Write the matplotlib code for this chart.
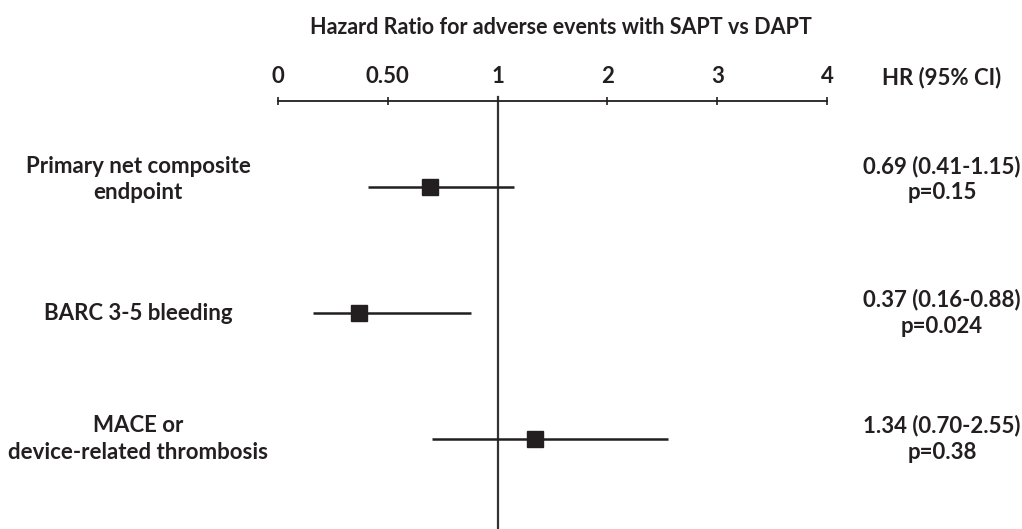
import numpy as np
import matplotlib
matplotlib.use("Agg")
import matplotlib.pyplot as plt
from matplotlib.transforms import blended_transform_factory

# ── Data ──────────────────────────────────────────────────────────────────────
endpoints = ["Primary net composite\nendpoint",
             "BARC 3-5 bleeding",
             "MACE or\ndevice-related thrombosis"]
hr      = [0.69, 0.37, 1.34]
ci_low  = [0.41, 0.16, 0.70]
ci_high = [1.15, 0.88, 2.55]
p_vals  = ["0.15", "0.024", "0.38"]

tick_vals   = [0, 0.5, 1, 2, 3, 4]
tick_labels = ["0", "0.50", "1", "2", "3", "4"]

# ── Style ─────────────────────────────────────────────────────────────────────
INK = "#231f20"
plt.rcParams.update({
    "font.family": ["Lato", "DejaVu Sans"],
    "font.weight": "bold",
    "font.size":   16,
})

W, H = 1022, 529
fig = plt.figure(figsize=(W / 100, H / 100), dpi=100)

# axes spans from the "0" tick to the "4" tick, top edge = HR axis line
ax = fig.add_axes([278 / W, 0, (827 - 278) / W, 1 - 101 / H])

# evenly spaced ticks 0, .5, 1, 2, 3, 4  -> piecewise linear scale
_pos = np.arange(len(tick_vals), dtype=float)
fwd = lambda v: np.interp(v, tick_vals, _pos)
inv = lambda u: np.interp(u, _pos, tick_vals)
ax.set_xscale("function", functions=(fwd, inv))
ax.set_xlim(0, 4)
ax.set_ylim(2.714, -0.683)

ax.set_xticks(tick_vals)
ax.set_xticklabels(tick_labels)
ax.xaxis.set_ticks_position("top")
ax.tick_params(axis="x", direction="inout", length=6, width=1.2,
               color=INK, pad=7, labelcolor=INK)
ax.set_yticks([])
for side in ["bottom", "left", "right"]:
    ax.spines[side].set_visible(False)
ax.spines["top"].set_linewidth(1.3)
ax.spines["top"].set_color(INK)

# reference line at HR = 1
ax.axvline(1, ymin=0, ymax=1.01, color="#333333", lw=1.6, clip_on=False)

rows = np.arange(len(hr))
ax.hlines(rows, ci_low, ci_high, color=INK, lw=1.8)
ax.plot(hr, rows, "s", color=INK, markersize=11, zorder=3)

# ── Text columns ──────────────────────────────────────────────────────────────
tr = blended_transform_factory(fig.transFigure, ax.transData)
label_dy = [-0.06, 0, 0]
for i, name in enumerate(endpoints):
    ax.text(138 / W, i + label_dy[i], name, transform=tr, ha="center", va="center",
            multialignment="center", color=INK, linespacing=1.3)
    ax.text(942 / W, i + label_dy[i], f"{hr[i]:.2f} ({ci_low[i]:.2f}-{ci_high[i]:.2f})\np={p_vals[i]}",
            transform=tr, ha="center", va="center",
            multialignment="center", color=INK, linespacing=1.3)

fig.text(942 / W, 1 - 78 / H, "HR (95% CI)", ha="center", va="center",
         color=INK)
fig.text(561 / W, 1 - 28 / H, "Hazard Ratio for adverse events with SAPT vs DAPT",
         ha="center", va="center", color=INK, fontsize=15.5)

fig.savefig("out.png", dpi=100)
